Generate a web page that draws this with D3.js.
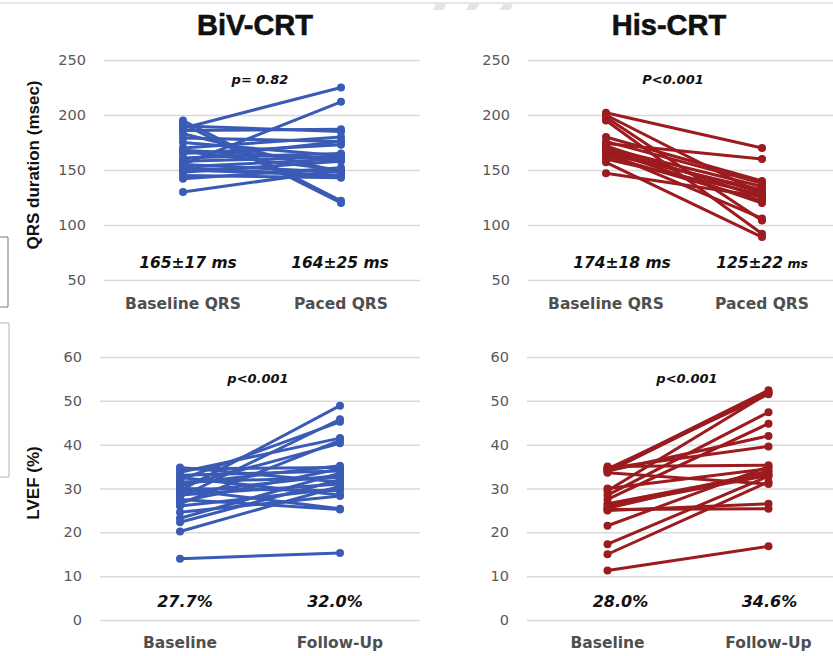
<!DOCTYPE html>
<html>
<head>
<meta charset="utf-8">
<script src="https://cdn.jsdelivr.net/npm/d3@7"></script>
<style>
  body { margin: 0; background: #fff; }
  svg { display: block; }
</style>
</head>
<body>
<div id="chart"></div>
<script>
// paired values, one pair per patient: [before, after]
const bivQrs = [
  [188, 225], [155, 212], [195, 122], [192, 120], [190, 185], [186, 187],
  [179, 176], [170, 180], [167, 150], [165, 173], [161, 165], [158, 162],
  [155, 148], [153, 160], [150, 145], [148, 158], [145, 143], [142, 152],
  [130, 150], [168, 160], [160, 176], [152, 145], [175, 163], [183, 148]
];
const hisQrs = [
  [202, 170], [198, 104], [195, 92], [200, 128], [180, 140], [174, 160],
  [172, 125], [170, 135], [168, 130], [166, 106], [165, 132], [163, 122],
  [160, 128], [157, 89], [147, 126], [176, 138], [168, 120]
];
const bivLvef = [
  [14.0, 15.3], [20.2, 30.5], [22.3, 32.0], [23.2, 33.5], [24.6, 28.3],
  [26.5, 41.0], [27.0, 34.5], [27.5, 25.2], [28.0, 45.8], [28.5, 31.0],
  [29.0, 33.0], [29.5, 48.9], [30.0, 29.5], [30.5, 40.3], [31.0, 35.2],
  [31.5, 32.5], [32.0, 45.2], [32.5, 28.5], [33.0, 34.0], [33.7, 41.5],
  [34.5, 34.8], [34.8, 31.5], [26.0, 30.0], [29.8, 25.4]
];
const hisLvef = [
  [11.3, 16.8], [15.0, 31.5], [17.3, 32.8], [21.5, 35.0], [25.0, 26.5],
  [25.2, 25.4], [25.5, 34.0], [26.5, 33.5], [27.5, 44.8], [28.5, 47.4],
  [29.5, 51.8], [30.0, 34.5], [33.8, 52.0], [34.2, 52.4], [34.5, 51.5],
  [34.0, 42.0], [34.6, 39.6], [35.0, 35.3], [33.6, 31.0], [26.0, 33.0]
];

const qrsCategories = ["Baseline QRS", "Paced QRS"];
const lvefCategories = ["Baseline", "Follow-Up"];
const qrsTicks = [50, 100, 150, 200, 250];
const lvefTicks = [0, 10, 20, 30, 40, 50, 60];

const titles = ["BiV-CRT", "His-CRT"];
const pLabels = ["p= 0.82", "P<0.001", "p<0.001", "p<0.001"];
const meanLabels = [
  ["165±17", "164±25"], ["174±18", "125±22"], ["27.7%", "32.0%"], ["28.0%", "34.6%"]
];
const yTitles = ["QRS duration (msec)", "LVEF (%)"];

const BLUE = "#3a5bb5";
const RED = "#9b1b1f";
const W = 833, H = 656;

const svg = d3.select("#chart").append("svg")
  .attr("width", W).attr("height", H)
  .style("font-family", "'DejaVu Sans', sans-serif");

// faint leftovers of the source slide
svg.append("line").attr("x1", 0).attr("x2", W).attr("y1", 3).attr("y2", 3)
  .attr("stroke", "#e6e6f0").attr("stroke-width", 2);
[433, 466, 500].forEach(x => {
  svg.append("path")
    .attr("d", `M${x + 3},4 L${x + 13},4 L${x + 10},10 L${x},10 Z`)
    .attr("fill", "#e4e4e4");
});
svg.append("path").attr("d", "M0,237 L8,237 L8,307 L0,307")
  .attr("fill", "none").attr("stroke", "#777").attr("stroke-width", 1);
svg.append("path").attr("d", "M0,323 L9,323 M9,323 L9,477 M0,477 L9,477")
  .attr("fill", "none").attr("stroke", "#999").attr("stroke-width", 1)
  .attr("opacity", 0.7);

const panels = [
  { data: bivQrs, color: BLUE, cats: qrsCategories, ticks: qrsTicks, domain: [50, 250],
    yRange: [280, 60], xRange: [104, 420], title: titles[0], titleX: 255,
    p: pLabels[0], pdx: -2, pY: 84, means: meanLabels[0], meanDx: [5, -1], meanY: 268,
    catY: 309, yTitle: yTitles[0], yTitleY: 165 },
  { data: hisQrs, color: RED, cats: qrsCategories, ticks: qrsTicks, domain: [50, 250],
    yRange: [280, 60], xRange: [528, 840], title: titles[1], titleX: 669,
    p: pLabels[1], pdx: -11, pY: 84, means: meanLabels[1], meanDx: [16, 0], meanY: 268,
    catY: 309 },
  { data: bivLvef, color: BLUE, cats: lvefCategories, ticks: lvefTicks, domain: [0, 60],
    yRange: [620, 357], xRange: [100, 420], p: pLabels[2], pdx: -2, pY: 383,
    means: meanLabels[2], meanDx: [5, -5], meanY: 607, catY: 648,
    yTitle: yTitles[1], yTitleY: 483 },
  { data: hisLvef, color: RED, cats: lvefCategories, ticks: lvefTicks, domain: [0, 60],
    yRange: [620, 357], xRange: [527, 849], p: pLabels[3], pdx: -1, pY: 383,
    means: meanLabels[3], meanDx: [13, 1], meanY: 607, catY: 648 }
];

panels.forEach((cfg, i) => {
  const g = svg.append("g");
  const y = d3.scaleLinear().domain(cfg.domain).range(cfg.yRange);
  const x = d3.scalePoint().domain(cfg.cats).range(cfg.xRange).padding(0.5);
  const gx0 = cfg.xRange[0];
  const gx1 = Math.min(cfg.xRange[1], W);

  // gridlines + tick labels
  const axis = g.append("g")
    .attr("transform", `translate(${gx0},0)`)
    .call(d3.axisLeft(y).tickValues(cfg.ticks).tickSize(-(gx1 - gx0)).tickPadding(18));
  axis.select(".domain").remove();
  axis.selectAll(".tick line").attr("stroke", "#d9d9d9").attr("stroke-width", 1.5);
  axis.selectAll(".tick text")
    .attr("fill", "#595959")
    .style("font-family", "'DejaVu Sans', sans-serif")
    .style("font-size", "14.5px");

  // paired lines
  const line = d3.line().x((d, k) => x(cfg.cats[k])).y(d => y(d));
  g.append("g").selectAll("path")
    .data(cfg.data)
    .join("path")
    .attr("d", d => line(d))
    .attr("fill", "none")
    .attr("stroke", cfg.color)
    .attr("stroke-width", 3)
    .attr("stroke-linecap", "round");

  const pts = cfg.data.flatMap(d => d.map((v, k) => ({ cat: cfg.cats[k], v })));
  g.append("g").selectAll("circle")
    .data(pts)
    .join("circle")
    .attr("cx", d => x(d.cat))
    .attr("cy", d => y(d.v))
    .attr("r", 4)
    .attr("fill", cfg.color);

  // title
  if (cfg.title) {
    g.append("text")
      .attr("x", cfg.titleX).attr("y", 35)
      .attr("text-anchor", "middle")
      .style("font-family", "'Liberation Sans', Arial, sans-serif")
      .style("font-size", "29px").style("font-weight", "bold")
      .attr("fill", "#111")
      .attr("stroke", "#111").attr("stroke-width", 0.6)
      .text(cfg.title);
  }

  // p value
  const mid = (x(cfg.cats[0]) + x(cfg.cats[1])) / 2;
  g.append("text")
    .attr("x", mid + cfg.pdx).attr("y", cfg.pY)
    .attr("text-anchor", "middle")
    .style("font-size", "13px").style("font-weight", "bold").style("font-style", "italic")
    .attr("fill", "#111")
    .text(cfg.p);

  // means
  cfg.means.forEach((m, k) => {
    const t = g.append("text")
      .attr("x", x(cfg.cats[k]) + cfg.meanDx[k]).attr("y", cfg.meanY)
      .attr("text-anchor", "middle")
      .style("font-size", "15.5px").style("font-weight", "bold").style("font-style", "italic")
      .attr("fill", "#111");
    if (m.endsWith("%")) {
      t.style("font-size", "16px").text(m);
    } else {
      t.append("tspan").text(m);
      // the His-CRT paced value has a smaller unit
      t.append("tspan")
        .style("font-size", i === 1 && k === 1 ? "12.5px" : "15.5px")
        .text(" ms");
    }
  });

  // category labels
  g.selectAll(".cat")
    .data(cfg.cats)
    .join("text")
    .attr("x", d => x(d)).attr("y", cfg.catY)
    .attr("text-anchor", "middle")
    .style("font-size", "15.5px").style("font-weight", "bold")
    .attr("fill", "#4f4f4f")
    .text(d => d);

  // y title
  if (cfg.yTitle) {
    g.append("text")
      .attr("transform", `translate(39,${cfg.yTitleY}) rotate(-90)`)
      .attr("text-anchor", "middle")
      .style("font-family", "'Liberation Sans', Arial, sans-serif")
      .style("font-size", "17px").style("font-weight", "bold")
      .attr("fill", "#111")
      .text(cfg.yTitle);
  }
});
</script>
</body>
</html>
